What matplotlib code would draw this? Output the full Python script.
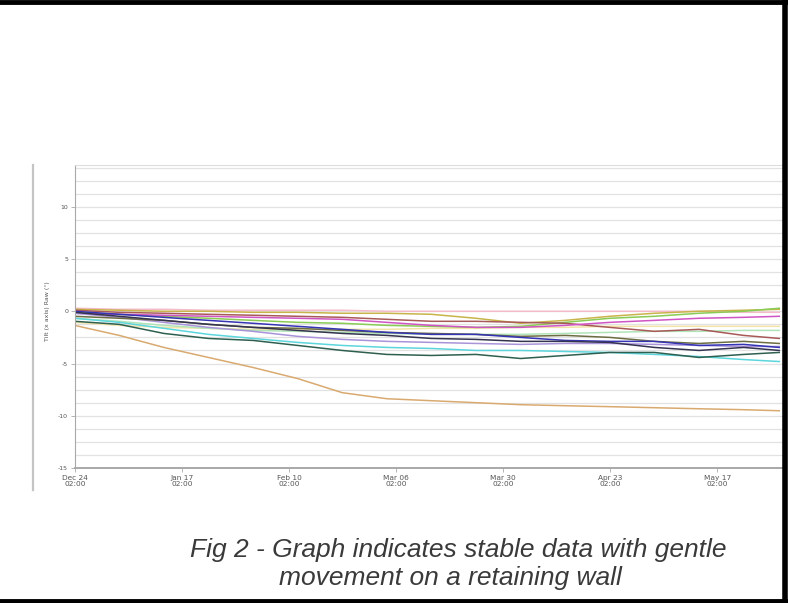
import datetime as dt
import matplotlib
matplotlib.use('Agg')
from matplotlib import pyplot as plt
from matplotlib.lines import Line2D

# sample dates (every ~10 days)
dates = ['2018-12-24', '2019-01-03', '2019-01-13', '2019-01-23', '2019-02-02', '2019-02-12',
         '2019-02-22', '2019-03-04', '2019-03-14', '2019-03-24', '2019-04-03', '2019-04-13',
         '2019-04-23', '2019-05-03', '2019-05-13', '2019-05-23', '2019-05-31']

# tilt values per sensor (deg)
orange = [-1.35, -2.31, -3.46, -4.42, -5.38, -6.44, -7.79, -8.37, -8.56, -8.75, -8.94, -9.04, -9.13, -9.23, -9.33, -9.42, -9.52]
dark_green = [-0.96, -1.25, -2.12, -2.60, -2.79, -3.27, -3.75, -4.13, -4.23, -4.13, -4.52, -4.23, -3.94, -3.94, -4.42, -4.13, -3.94]
cyan = [-0.67, -1.06, -1.63, -2.21, -2.60, -2.98, -3.27, -3.46, -3.56, -3.75, -3.75, -3.85, -3.94, -4.13, -4.33, -4.62, -4.81]
lavender = [-0.19, -0.58, -1.06, -1.54, -1.92, -2.40, -2.69, -2.88, -2.98, -3.08, -3.17, -3.08, -3.08, -3.17, -3.27, -3.37, -3.37]
blue = [0.0, -0.29, -0.58, -0.87, -1.15, -1.44, -1.73, -2.02, -2.21, -2.21, -2.50, -2.79, -2.88, -2.88, -3.27, -3.17, -3.46]
navy = [-0.10, -0.48, -0.87, -1.25, -1.54, -1.83, -2.12, -2.31, -2.60, -2.69, -2.88, -2.88, -2.98, -3.46, -3.75, -3.46, -3.75]
magenta = [-0.19, -0.29, -0.38, -0.48, -0.58, -0.67, -0.77, -1.06, -1.35, -1.54, -1.54, -1.35, -1.06, -0.87, -0.67, -0.58, -0.48]
brown = [0.10, -0.10, -0.19, -0.29, -0.38, -0.48, -0.58, -0.77, -0.96, -0.96, -1.06, -1.15, -1.54, -1.92, -1.73, -2.31, -2.60]
light_green = [-0.10, -0.29, -0.48, -0.67, -0.87, -1.06, -1.15, -1.35, -1.44, -1.54, -1.44, -1.06, -0.67, -0.48, -0.19, 0.0, 0.29]
olive = [0.19, 0.10, 0.0, 0.0, -0.10, -0.10, -0.19, -0.19, -0.29, -0.67, -1.15, -0.87, -0.48, -0.19, 0.0, 0.10, 0.19]
light_pink = [0.29, 0.19, 0.19, 0.10, 0.10, 0.10, 0.10, 0.0, 0.0, 0.0, 0.0, 0.0, 0.0, 0.0, 0.0, -0.10, -0.10]
pale_mint = [-0.67, -0.96, -1.35, -1.63, -1.83, -1.92, -2.02, -2.12, -2.21, -2.21, -2.21, -2.12, -2.02, -1.92, -1.92, -1.83, -1.83]
pale_yellow = [-1.06, -1.35, -1.54, -1.63, -1.73, -1.73, -1.73, -1.73, -1.63, -1.63, -1.54, -1.54, -1.44, -1.44, -1.44, -1.44, -1.44]
dark_olive = [-0.48, -0.67, -0.87, -1.25, -1.54, -1.63, -1.83, -2.02, -2.12, -2.21, -2.40, -2.31, -2.50, -2.88, -3.08, -2.88, -3.08]

series = [
    (pale_yellow, '#f2e4a8'), (light_pink, '#f4bccb'), (pale_mint, '#b0e4b8'),
    (olive, '#c8b44a'), (light_green, '#8acb55'), (brown, '#a85a58'),
    (magenta, '#d055c4'), (lavender, '#a994da'), (cyan, '#5cd6dc'),
    (dark_olive, '#6d6d44'), (blue, '#3434b4'), (navy, '#343450'),
    (dark_green, '#2f5f50'), (orange, '#d9aa70'),
]

tick_dates = ['2018-12-24 02:00', '2019-01-17 02:00', '2019-02-10 02:00', '2019-03-06 02:00',
              '2019-03-30 02:00', '2019-04-23 02:00', '2019-05-17 02:00']
tick_labels = ['Dec 24\n02:00', 'Jan 17\n02:00', 'Feb 10\n02:00', 'Mar 06\n02:00',
               'Mar 30\n02:00', 'Apr 23\n02:00', 'May 17\n02:00']
y_ticks = [10, 5, 0, -5, -10, -15]

W, H = 788, 603
fig = plt.figure(figsize=(W / 100, H / 100), dpi=100)
fig.patch.set_facecolor('white')

ax = fig.add_axes([75 / W, (H - 468) / H, (783 - 75) / W, (468 - 165) / H])

x = [dt.datetime.strptime(d, '%Y-%m-%d') for d in dates]
for vals, col in series:
    ax.plot(x, vals, color=col, lw=1.1, solid_joinstyle='round')

ax.set_xlim(dt.datetime(2018, 12, 24, 2), dt.datetime(2019, 5, 31, 20))
ax.set_ylim(-15, 14)

ax.set_yticks(y_ticks)
ax.set_yticklabels([str(v) for v in y_ticks], fontsize=4.5, color='#555555')
ax.set_yticks([v / 4 for v in range(-60, 56, 5)], minor=True)
ax.grid(True, which='both', axis='y', color='#e2e2e2', lw=0.9)
ax.set_axisbelow(True)

ax.set_xticks([dt.datetime.strptime(t, '%Y-%m-%d %H:%M') for t in tick_dates])
ax.set_xticklabels(tick_labels, fontsize=5.3, color='#555555', linespacing=1.05)
ax.tick_params(axis='both', which='major', length=3, width=0.6, color='#aaaaaa', pad=2)
ax.tick_params(axis='y', which='minor', length=0)

ax.spines['left'].set_color('#a8a8a8')
ax.spines['bottom'].set_color('#a8a8a8')
ax.spines['bottom'].set_linewidth(1.4)
ax.spines['top'].set_color('#dddddd')
ax.spines['right'].set_visible(False)

fig.text(48 / W, 1 - 311 / H, 'Tilt (x axis) Raw (°)', rotation=90, fontsize=4.5,
         color='#555555', ha='center', va='center')

# screenshot frame pieces
fig.add_artist(Line2D([33 / W, 33 / W], [1 - 165 / H, 1 - 490 / H], color='#c4c4c4', lw=1.6))
fig.add_artist(Line2D([0, 1], [1 - 2 / H, 1 - 2 / H], color='black', lw=3.5))
fig.add_artist(Line2D([1 - 3 / W, 1 - 3 / W], [0, 1], color='black', lw=4))
fig.add_artist(Line2D([0, 1], [2 / H, 2 / H], color='black', lw=3.5))

cap = dict(family='Liberation Sans', style='italic', fontsize=19, color='#3a3a3a', ha='center', va='baseline')
fig.text(458 / W, 1 - 557 / H, 'Fig 2 - Graph indicates stable data with gentle', **cap)
fig.text(450 / W, 1 - 585 / H, 'movement on a retaining wall', **cap)

fig.savefig('out.png', dpi=100, facecolor='white')
